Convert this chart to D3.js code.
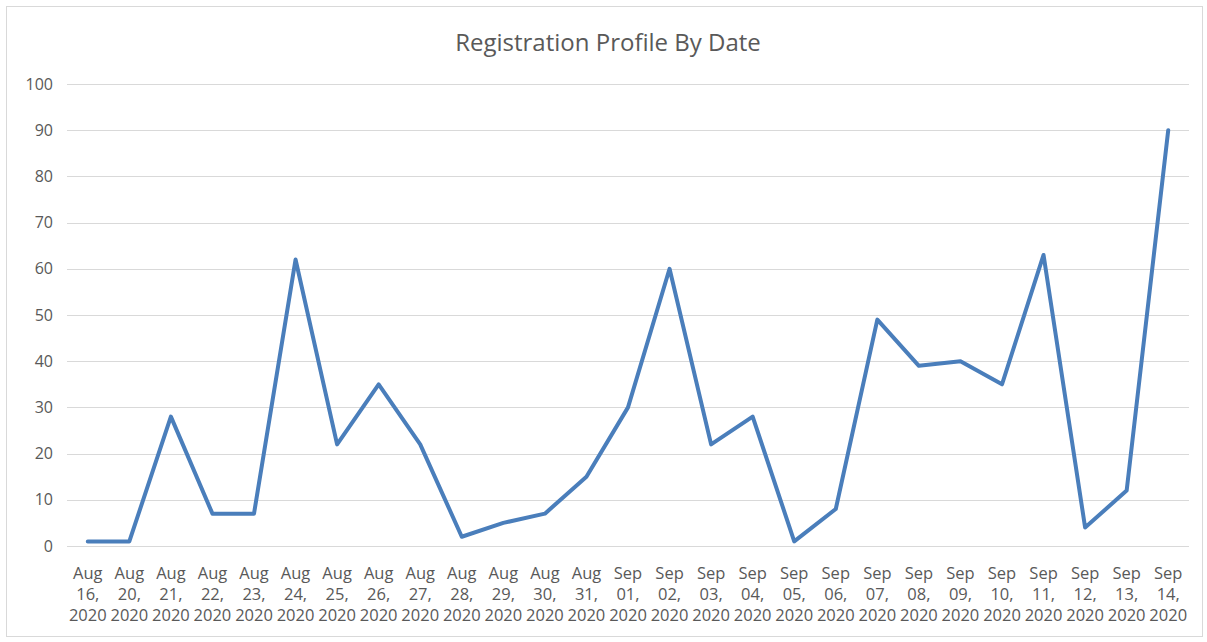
<!DOCTYPE html>
<html>
<head>
<meta charset="utf-8">
<script src="https://cdn.jsdelivr.net/npm/d3@7"></script>
<style>
body{margin:0;background:#fff;}
text{font-family:"Open Sans",sans-serif;fill:#595959;}
</style>
</head>
<body>
<script>
// dates shown on the x axis (3 lines each)
var months = ['Aug','Aug','Aug','Aug','Aug','Aug','Aug','Aug','Aug','Aug','Aug','Aug','Aug',
              'Sep','Sep','Sep','Sep','Sep','Sep','Sep','Sep','Sep','Sep','Sep','Sep','Sep','Sep'];
var days = ['16','20','21','22','23','24','25','26','27','28','29','30','31',
            '01','02','03','04','05','06','07','08','09','10','11','12','13','14'];
var years = ['2020','2020','2020','2020','2020','2020','2020','2020','2020','2020','2020','2020','2020',
             '2020','2020','2020','2020','2020','2020','2020','2020','2020','2020','2020','2020','2020','2020'];
var registrations = [1,1,28,7,7,62,22,35,22,2,5,7,15,30,60,22,28,1,8,49,39,40,35,63,4,12,90];
var yTicks = [0,10,20,30,40,50,60,70,80,90,100];

var width = 1207, height = 642;
var margin = {left:67,right:18,top:84,bottom:96};

var svg = d3.select("body").append("svg").attr("width",width).attr("height",height);

// outer chart frame
svg.append("rect").attr("x",6.5).attr("y",6.5).attr("width",1196).attr("height",630)
   .attr("fill","none").attr("stroke","#d9d9d9");

var keys = days.map(function(d,i){ return i; });
var x = d3.scaleBand().domain(keys).range([margin.left,width-margin.right]);
var y = d3.scaleLinear().domain([0,100]).range([height-margin.bottom,margin.top]);

// gridlines
svg.append("g").selectAll("line").data(yTicks).enter().append("line")
   .attr("x1",margin.left).attr("x2",width-margin.right)
   .attr("y1",function(d){ return Math.round(y(d))+0.5; })
   .attr("y2",function(d){ return Math.round(y(d))+0.5; })
   .attr("stroke","#d9d9d9").attr("stroke-width",1);

// y axis labels
var yAxis = d3.axisLeft(y).tickValues(yTicks).tickSize(0).tickPadding(14);
var yg = svg.append("g").attr("transform","translate("+margin.left+",0)").call(yAxis);
yg.select(".domain").remove();
yg.selectAll("text").style("font-size","16px").attr("fill","#595959");

// x axis labels, three lines each
var xAxis = d3.axisBottom(x).tickSize(0).tickFormat(function(){ return ""; });
var xg = svg.append("g").attr("transform","translate(0,"+(height-margin.bottom)+")").call(xAxis);
xg.select(".domain").remove();
xg.selectAll(".tick").each(function(i){
  var t = d3.select(this).select("text").attr("y",0).attr("dy",null)
            .style("font-size","16.5px").attr("fill","#595959");
  t.append("tspan").attr("x",0).attr("y",33).text(months[i]);
  t.append("tspan").attr("x",0).attr("y",54).text(days[i]+",");
  t.append("tspan").attr("x",0).attr("y",75).text(years[i]);
});

// line
var line = d3.line()
   .x(function(d,i){ return x(i)+x.bandwidth()/2; })
   .y(function(d){ return y(d); });
svg.append("path").attr("d",line(registrations))
   .attr("fill","none").attr("stroke","#4a7ebb").attr("stroke-width",4)
   .attr("stroke-linejoin","round").attr("stroke-linecap","round");

// title
svg.append("text").attr("x",608).attr("y",51).attr("text-anchor","middle")
   .style("font-size","24px").text("Registration Profile By Date");
</script>
</body>
</html>
